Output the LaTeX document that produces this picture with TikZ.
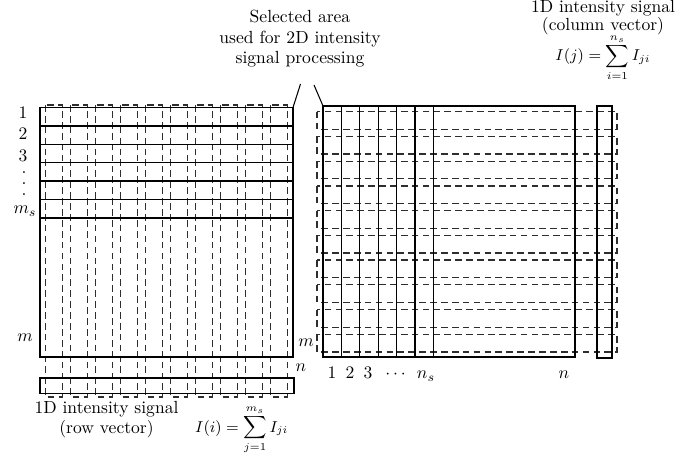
\documentclass[tikz,border=0pt]{standalone}
\usepackage{amsmath, amssymb}
\usepackage{tikz}
\usetikzlibrary{positioning, calc}
\usepackage{xcolor}
\definecolor{dashgray}{HTML}{2E2E2E}
\tikzset{
  solidline/.style={draw=black, line width=0.7pt},
  msline/.style={draw=black, line width=1.4pt},
  dashbox/.style={draw=dashgray, line width=0.75pt, dash pattern=on 3.8pt off 2.4pt},
  leader/.style={draw=black, line width=0.6pt},
  lbl/.style={font=\fontsize{10}{11.6}\selectfont, inner sep=0pt, text centered},
  sumlbl/.style={font=\fontsize{9}{11}\selectfont, inner sep=0pt, anchor=base},
}

\begin{document}
\begin{tikzpicture}[x=0.02cm, y=-0.02cm]
\useasboundingbox (0,0) rectangle (682,465);

% Left image: column strips and selected rows
\foreach \cx in {45.7,70.7,95.7,120.7,145.7,170.7,195.7,220.7,245.7,270.7}
  \draw[dashbox] (\cx,105) rectangle ++(17,292);
\draw[solidline] (40,107.5) rectangle (293,357);
\foreach \ry in {125.9,144.3,162.7,181.1,199.6}
  \draw[solidline] (40,\ry) -- (293,\ry);
\draw[msline] (40,218) -- (293,218);
\draw[solidline] (40,378) rectangle (294,393.5);

\node[lbl, anchor=base] (row1) at (23,118.5) {1};
\node[lbl, anchor=base] (row2) at (23,139.5) {2};
\node[lbl, anchor=base] (row3) at (23,162) {3};
\node[lbl] (rdot1) at (24,173) {.};
\node[lbl] (rdot2) at (24,184) {.};
\node[lbl] (rdot3) at (24,195) {.};
\node[lbl, anchor=base] (rowms) at (25,214) {$m_s$};
\node[lbl, anchor=base] (rowm) at (25,342) {$m$};
\node[lbl, anchor=base] (coln) at (301,371.5) {$n$};

% Right image: row strips and selected columns
\foreach \ry in {111.7,136.4,161.2,185.9,210.6,235.4,260.1,284.8,309.6,334.3}
  \draw[dashbox] (317,\ry) rectangle ++(300,17.6);
\draw[solidline] (323,106) rectangle (575,357);
\foreach \cx in {341.4,359.8,378.2,396.6,415,433.4}
  \draw[solidline] (\cx,106) -- (\cx,357);
\draw[solidline] (597,106) rectangle (612,358);

\node[lbl, anchor=base] (rowmR) at (306,346.5) {$m$};
\node[lbl, anchor=base] (col1) at (332,378.5) {1};
\node[lbl, anchor=base] (col2) at (350,378.5) {2};
\node[lbl, anchor=base] (col3) at (368,378.5) {3};
\node[lbl, anchor=base] (coldots) at (397,378.5) {$\cdots$};
\node[lbl, anchor=base] (colns) at (426,378.5) {$n_s$};
\node[lbl, anchor=base] (colnR) at (564,378.5) {$n$};

% Selected area
\node[lbl, align=center] (selarea) at (300,38.8) {Selected area\\used for 2D intensity\\signal processing};
\coordinate (leadA) at (300.5,84);
\coordinate (leadB) at (314,85);
\coordinate (leftTR) at (293,107.5);
\coordinate (rightTL) at (323,106);
\draw[leader] (leftTR) -- (leadA);
\draw[leader] (rightTL) -- (leadB);

% Column vector
\node[lbl, align=center, font=\fontsize{10}{9.4}\selectfont] (colvec) at (603,17.8) {1D intensity signal\\(column vector)};
\node[sumlbl] (colsum) at (603,61) {$\displaystyle I(j) = \sum_{i=1}^{n_s} I_{ji}$};

% Row vector
\node[lbl, align=center, font=\fontsize{10}{11.2}\selectfont] (rowvec) at (106.5,419.3) {1D intensity signal\\(row vector)};
\node[sumlbl] (rowsum) at (241.7,432) {$\displaystyle I(i) = \sum_{j=1}^{m_s} I_{ji}$};

\end{tikzpicture}
\end{document}
